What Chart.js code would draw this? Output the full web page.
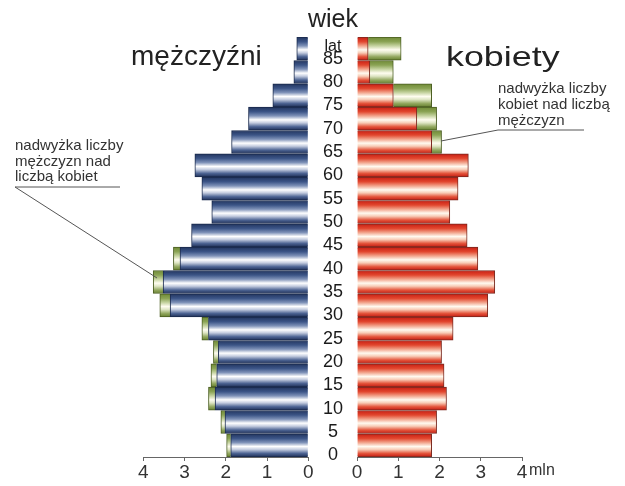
<!DOCTYPE html>
<html><head><meta charset="utf-8">
<script src="https://cdn.jsdelivr.net/npm/chart.js@4.4.1/dist/chart.umd.min.js"></script>
<style>
html,body{margin:0;padding:0;background:#fff;}
body{width:625px;height:486px;position:relative;overflow:hidden;font-family:"Liberation Sans",Arial,sans-serif;color:#222;}
canvas{position:absolute;top:0;}
.t{position:absolute;white-space:nowrap;}
</style></head>
<body>
<canvas id="cl" width="330" height="486" style="left:0"></canvas>
<canvas id="cr" width="325" height="486" style="left:300px"></canvas>
<div class="t" style="left:131px;top:42px;font-size:28px;line-height:28px;">mężczyźni</div>
<div class="t" style="left:446px;top:43px;font-size:28px;line-height:28px;transform:scaleX(1.28);transform-origin:0 0;">kobiety</div>
<div class="t" style="left:308px;top:6px;font-size:25px;line-height:25px;">wiek</div>
<div class="t" style="left:15px;top:137px;font-size:15px;line-height:15.5px;color:#333;">nadwyżka liczby<br>mężczyzn nad<br>liczbą kobiet</div>
<div class="t" style="left:498px;top:80px;font-size:15px;line-height:16px;color:#333;">nadwyżka liczby<br>kobiet nad liczbą<br>mężczyzn</div>
<svg width="625" height="486" style="position:absolute;left:0;top:0;pointer-events:none">
<polyline points="120,187 15,187 157,278" fill="none" stroke="#555" stroke-width="1"/>
<polyline points="584,130 498,130 441,141" fill="none" stroke="#555" stroke-width="1"/>
</svg>
<script>
// age groups (lower bound of each 5-year group; last is 85+)
const ageStart = [0,5,10,15,20,25,30,35,40,45,50,55,60,65,70,75,80,85];
const ageTickLabels = ['0','5','10','15','20','25','30','35','40','45','50','55','60','65','70','75','80','85'];
const ageUnitLabel = 'lat';
// population in millions
const men = [1.98,2.12,2.42,2.36,2.30,2.58,3.60,3.76,3.27,2.83,2.34,2.58,2.75,1.86,1.45,0.86,0.35,0.28];
const menExcess = [0.10,0.10,0.16,0.14,0.12,0.16,0.25,0.24,0.16,0,0,0,0,0,0,0,0,0];
const women = [1.81,1.93,2.17,2.11,2.05,2.33,3.17,3.34,2.93,2.67,2.25,2.45,2.70,2.05,1.93,1.81,0.88,1.07];
const womenExcess = [0,0,0,0,0,0,0,0,0,0,0,0,0,0.24,0.48,0.93,0.57,0.80];
const xTicks = [0,1,2,3,4];
const unitLabel = 'mln';

const FONT = '"Liberation Sans", Arial, sans-serif';
const BAR = 23;

const STOPS = {
  blue: ['#22355f','#3c5587','#7f92b8','#ffffff','#c5cde0','#4d6493','#1f3058'],
  red: ['#c81d12','#e2472f','#f2a48c','#fffaf0','#f8cdb8','#e4553c','#c41c12'],
  green: ['#6f8a35','#8ba455','#c5d3a0','#fffdf0','#dfe6c5','#93a860','#66802e']
};
const POS = [0,0.2,0.38,0.55,0.68,0.85,1];
function grad(name){
  return function(ctx){
    const chart = ctx.chart; const ys = chart.scales && chart.scales.y;
    const raw = ctx.raw;
    if(!ys || !raw) return STOPS[name][1];
    const yc = ys.getPixelForValue(raw.y);
    if(!isFinite(yc)) return STOPS[name][1];
    const g = chart.ctx.createLinearGradient(0, yc - BAR/2, 0, yc + BAR/2);
    STOPS[name].forEach((c,i)=>g.addColorStop(POS[i], c));
    return g;
  };
}
function baseData(tot, exc){ return ageStart.map((a,i)=>({y:a+2.5, x:[0, +(tot[i]-exc[i]).toFixed(3)]})); }
function excData(tot, exc){ return ageStart.map((a,i)=>({y:a+2.5, x:[+(tot[i]-exc[i]).toFixed(3), tot[i]], e:exc[i]})).filter(d=>d.e>0); }

function xScale(reverse){
  return {
    type:'linear', min:0, max:4, reverse:reverse, position:'bottom',
    afterBuildTicks(s){ s.ticks = xTicks.map(v=>({value:v})); },
    ticks:{ font:{size:19, family:FONT}, color:'#333', padding:0, maxRotation:0 },
    grid:{ drawOnChartArea:false, drawTicks:true, tickLength:4, color:'#666' },
    border:{ display:true, color:'#666', width:1 },
    afterFit(s){ s.height = 29; }
  };
}
const yScale = { type:'linear', min:0, max:90, display:false, offset:false, grid:{offset:false}, ticks:{stepSize:5} };

const common = {
  indexAxis:'y', responsive:false, animation:false, events:[],
  plugins:{ legend:{display:false}, tooltip:{enabled:false} }
};

new Chart(document.getElementById('cl'), {
  type:'bar',
  data:{ datasets:[
    { data: baseData(men, menExcess), backgroundColor: grad('blue'), borderColor:'#1a2a4c', borderWidth:1, barThickness:BAR, grouped:false },
    { data: excData(men, menExcess), backgroundColor: grad('green'), borderColor:'#4b5e22', borderWidth:1, barThickness:BAR, grouped:false }
  ]},
  options: Object.assign({}, common, {
    layout:{ padding:{ left:143.3, right:21.7, top:37, bottom:0 } },
    scales:{ x: xScale(true), y: yScale }
  })
});

const labelsPlugin = {
  id:'ageLabels',
  afterDraw(chart){
    const ctx = chart.ctx, ys = chart.scales.y, xs = chart.scales.x, ca = chart.chartArea;
    ctx.save();
    ctx.fillStyle = '#1a1a1a';
    ctx.textAlign = 'center'; ctx.textBaseline = 'middle';
    ctx.font = '18px ' + FONT;
    const cx = ca.left - 24;
    ageStart.forEach((a,i)=>{ ctx.fillText(ageTickLabels[i], cx, ys.getPixelForValue(a) - 1.5); });
    ctx.font = '16px ' + FONT;
    ctx.fillText(ageUnitLabel, cx, ys.getPixelForValue(88));
    ctx.textAlign = 'left'; ctx.fillStyle = '#333';
    ctx.fillText(unitLabel, xs.getPixelForValue(4) + 7, ca.bottom + 14);
    ctx.restore();
  }
};

new Chart(document.getElementById('cr'), {
  type:'bar',
  data:{ datasets:[
    { data: baseData(women, womenExcess), backgroundColor: grad('red'), borderColor:'#7a2a20', borderWidth:1, barThickness:BAR, grouped:false },
    { data: excData(women, womenExcess), backgroundColor: grad('green'), borderColor:'#4b5e22', borderWidth:1, barThickness:BAR, grouped:false }
  ]},
  options: Object.assign({}, common, {
    layout:{ padding:{ left:57, right:103, top:37, bottom:0 } },
    scales:{ x: xScale(false), y: yScale }
  }),
  plugins:[labelsPlugin]
});
</script>
</body></html>
